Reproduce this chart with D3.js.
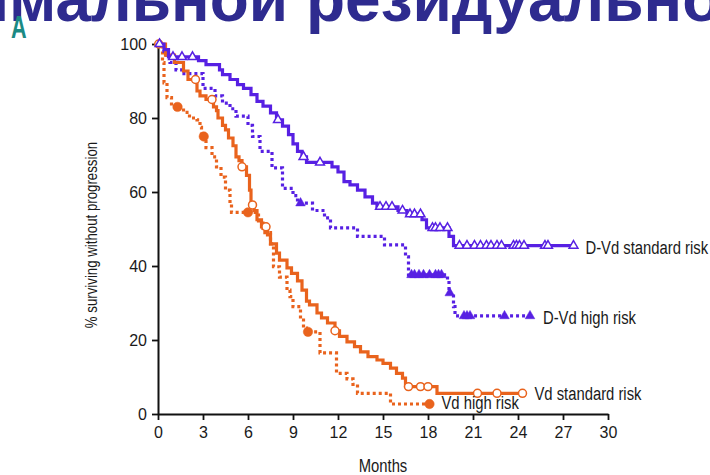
<!DOCTYPE html>
<html>
<head>
<meta charset="utf-8">
<script src="https://cdn.jsdelivr.net/npm/d3@7"></script>
<style>
  body { margin: 0; background: #fff; }
  svg { display: block; }
  text { font-family: "Liberation Sans", Arial, sans-serif; fill: #1a1a1a; }
</style>
</head>
<body>
<svg id="chart" width="710" height="475"></svg>
<script>
'use strict';

// step data: [month, % surviving without progression]
const dvdStdSteps = [[0,100],[0.4,98.5],[0.7,96.5],[2.7,95.5],[3.2,94.4],[4.1,93],[4.3,91.7],[4.8,90.4],[5.3,89],[5.7,88],[6.2,86.3],[6.6,84.5],[7.0,83.2],[7.5,81.4],[7.9,79.5],[8.3,77.8],[8.7,75.5],[9.0,73],[9.3,71],[9.6,69.5],[9.9,68],[11.6,66.8],[12.0,65.4],[12.4,62.8],[12.8,61.9],[13.3,60.5],[13.8,58.7],[14.3,57],[14.6,56],[16.0,55],[16.6,54],[17.6,52.5],[17.9,50.3],[19.4,48],[19.7,45.5]];
const dvdStdEnd = 27.7;
const dvdStdCensor = [0.1,1.0,1.6,2.3,8.0,9.7,10.8,14.8,15.2,15.6,16.3,16.8,17.1,17.5,18.3,18.5,18.8,19.3,20.1,20.6,21.1,21.5,21.9,22.2,22.6,22.9,23.7,23.9,24.1,24.4,25.8,26.0,27.7];

const dvdHighSteps = [[0,100],[0.4,97],[0.8,95],[1.2,93],[1.6,92],[3.0,88],[3.8,86],[4.3,84],[4.8,82.5],[5.2,80.5],[6.0,78],[6.3,75],[6.8,71],[7.6,66.5],[8.3,61],[9.0,59],[9.3,57],[10.3,55],[11.1,53],[11.5,50.3],[13.3,48],[15.1,45.7],[16.5,42.5],[16.7,37.6],[19.3,36],[19.4,32.7],[19.7,29],[19.8,26.5]];
const dvdHighEnd = 24.8;
const dvdHighCensor = [9.5,16.9,17.1,17.4,17.7,18.1,18.5,18.7,18.9,19.45,20.4,20.6,20.8,23.1,24.8];

const vdStdSteps = [[0,100],[0.5,97],[1.1,95],[1.7,92.7],[2.0,90.4],[2.6,87.3],[2.8,86],[3.2,85],[3.7,83],[3.9,82],[4.0,80],[4.3,78],[4.5,76.8],[4.7,74.6],[5.0,72.5],[5.2,69.5],[5.4,68.5],[5.6,66.8],[5.9,64.5],[6.1,60.5],[6.2,56.5],[6.4,55],[6.6,52.5],[6.9,50.6],[7.3,48.4],[7.5,46],[7.9,43.5],[8.1,41.6],[8.6,39.5],[8.9,38],[9.3,36],[9.6,33.5],[9.9,30.5],[10.1,29.5],[10.6,27.3],[10.9,26],[11.3,24.6],[11.8,22.5],[12.1,21],[12.6,19.5],[13.1,18.2],[13.5,16.8],[14.0,15.5],[14.6,14.6],[15.0,13.7],[15.5,12.4],[15.9,11],[16.3,9.7],[16.5,7.4],[18.6,5.6]];
const vdStdEnd = 24.3;
const vdStdCensor = [0.05,2.5,3.6,5.6,6.3,7.2,11.8,16.7,17.5,18.0,21.3,22.6,24.3];

const vdHighSteps = [[0,100],[0.3,95],[0.4,89.5],[0.6,85.5],[0.9,83],[1.7,81.5],[2.1,80],[2.6,79.5],[2.8,77.5],[2.9,75],[3.2,72],[3.6,69.5],[3.9,66.8],[4.2,64],[4.5,60.5],[4.8,57],[4.9,54.5],[6.7,51.6],[7.0,49],[7.5,46],[7.7,39.8],[8.1,37],[8.6,33.5],[8.8,31.7],[9.0,29],[9.5,25.4],[9.7,23.2],[9.9,22.2],[10.8,16.5],[11.9,11],[12.6,9.5],[13.0,8],[13.3,5.6],[15.5,2.7]];
const vdHighEnd = 18.1;
const vdHighCensor = [1.3,3.05,6.0,10.0,18.1];

const seriesNames = ['D-Vd standard risk', 'D-Vd high risk', 'Vd standard risk', 'Vd high risk'];
const xTicks = [0,3,6,9,12,15,18,21,24,27,30];
const yTicks = [0,20,40,60,80,100];

const purple = '#5720e3';
const orange = '#e9631d';
const narrow = 0.78; // horizontal squeeze to mimic a condensed face

const svg = d3.select('#chart');

// big clipped heading at the top of the slide
const headFont = g => g.style('font-family', '"Liberation Sans", Arial, sans-serif')
    .style('font-weight', 'bold').style('font-size', '64px');
const heading = svg.append('text').attr('y', 21).call(headFont)
    .style('fill', '#2e2b8f')
    .text('имальной резидуальной');
const probe = svg.append('text').call(headFont).text('и');
const iw = probe.node().getComputedTextLength();
probe.remove();
heading.attr('x', 9 - iw);

svg.append('text')
    .attr('transform', `translate(11,38) scale(0.7,1)`)
    .style('font-weight', 'bold')
    .style('font-size', '31px')
    .style('fill', '#1b8a84')
    .text('A');

const x = d3.scaleLinear().domain([0, 30]).range([158, 608]);
const y = d3.scaleLinear().domain([0, 100]).range([414, 44]);

// axes
const xAxis = svg.append('g')
    .attr('transform', `translate(0,${y(0)})`)
    .call(d3.axisBottom(x).tickValues(xTicks).tickSize(6).tickSizeOuter(0).tickPadding(4));
const yAxis = svg.append('g')
    .attr('transform', `translate(${x(0)},0)`)
    .call(d3.axisLeft(y).tickValues(yTicks).tickSize(6).tickSizeOuter(0).tickPadding(5));

[xAxis, yAxis].forEach(g => {
    g.select('.domain').attr('stroke', '#111').attr('stroke-width', 2);
    g.selectAll('.tick line').attr('stroke', '#111').attr('stroke-width', 1.8);
    g.selectAll('.tick text').style('font-size', '16px').attr('fill', '#1a1a1a')
        .style('font-family', '"Liberation Sans", Arial, sans-serif');
});
xAxis.selectAll('.tick text').attr('dy', '0.85em');
yAxis.selectAll('.tick text').attr('dy', '0.36em');

svg.append('text')
    .attr('transform', `translate(97,${(y(0) + y(100)) / 2 + 6}) rotate(-90) scale(${narrow},1)`)
    .attr('text-anchor', 'middle')
    .style('font-size', '17px')
    .text('% surviving without progression');

svg.append('text')
    .attr('transform', `translate(383,472) scale(${narrow},1)`)
    .attr('text-anchor', 'middle')
    .style('font-size', '19px')
    .text('Months');

// step helpers
function stepValue(steps, t) {
    let v = steps[0][1];
    steps.forEach(d => { if (d[0] <= t) v = d[1]; });
    return v;
}
const line = d3.line()
    .x(d => x(d[0]))
    .y(d => y(d[1]))
    .curve(d3.curveStepAfter);

const series = [
    { steps: dvdStdSteps, end: dvdStdEnd, censor: dvdStdCensor, color: purple, dash: null, mark: 'tri', filled: false },
    { steps: dvdHighSteps, end: dvdHighEnd, censor: dvdHighCensor, color: purple, dash: '3,3', mark: 'tri', filled: true },
    { steps: vdStdSteps, end: vdStdEnd, censor: vdStdCensor, color: orange, dash: null, mark: 'circle', filled: false },
    { steps: vdHighSteps, end: vdHighEnd, censor: vdHighCensor, color: orange, dash: '3,3', mark: 'circle', filled: true }
];

// dotted first, solid on top
[series[3], series[1], series[2], series[0]].forEach(s => {
    const pts = s.steps.concat([[s.end, s.steps[s.steps.length - 1][1]]]);
    svg.append('path')
        .datum(pts)
        .attr('d', line)
        .attr('fill', 'none')
        .attr('stroke', s.color)
        .attr('stroke-width', 3.2)
        .attr('stroke-dasharray', s.dash);

    const marks = svg.append('g').selectAll('.m')
        .data(s.censor)
        .join('path')
        .attr('transform', t => `translate(${x(t)},${y(stepValue(s.steps, t))})`)
        .attr('fill', s.filled ? s.color : '#fff')
        .attr('stroke', s.color)
        .attr('stroke-width', s.filled ? 0.5 : 1.5);
    if (s.mark === 'tri') {
        marks.attr('d', d3.symbol(d3.symbolTriangle, s.filled ? 40 : 34)());
    } else {
        marks.attr('d', d3.symbol(d3.symbolCircle, s.filled ? 70 : 50)());
    }
});

// end labels
const labelPos = [
    { t: dvdStdEnd, v: 45.5, dx: 12, dy: 8 },
    { t: dvdHighEnd, v: 26.5, dx: 13, dy: 8 },
    { t: vdStdEnd, v: 5.6, dx: 12, dy: 7 },
    { t: vdHighEnd, v: 2.7, dx: 12, dy: 5 }
];
svg.append('g').selectAll('text')
    .data(seriesNames)
    .join('text')
    .attr('transform', (d, i) =>
        `translate(${x(labelPos[i].t) + labelPos[i].dx},${y(labelPos[i].v) + labelPos[i].dy}) scale(${narrow},1)`)
    .style('font-size', '19px')
    .text(d => d);
</script>
</body>
</html>
